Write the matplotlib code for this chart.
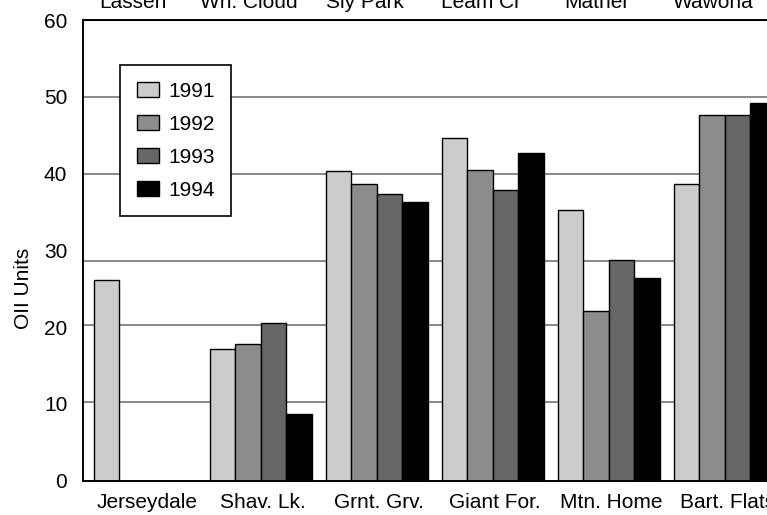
import numpy as np
import matplotlib
matplotlib.use("Agg")
import matplotlib.pyplot as plt
from matplotlib.patches import Patch

plt.rcParams["font.family"] = ["Liberation Sans", "DejaVu Sans"]

# Sites along the bottom and the paired site names along the top
sites = ["Jerseydale", "Shav. Lk.", "Grnt. Grv.", "Giant For.", "Mtn. Home", "Bart. Flats"]
top_sites = ["Lassen", "Wh. Cloud", "Sly Park", "Leam Cr", "Mather", "Wawona"]
years = ["1991", "1992", "1993", "1994"]

# OII units per site and year (nan = no measurement)
v1991 = [26.2, 17.1, 40.3, 44.6, 35.3, 38.7]
v1992 = [np.nan, 17.8, 38.6, 40.4, 22.1, 47.6]
v1993 = [np.nan, 20.5, 37.4, 37.9, 28.7, 47.6]
v1994 = [np.nan, 8.7, 36.3, 42.7, 26.4, 49.2]
series = [v1991, v1992, v1993, v1994]

yticks = [0, 10, 20, 30, 40, 50, 60]
grid_levels = [10.2, 20.3, 28.6, 40, 50]

colors = ["#cccccc", "#8c8c8c", "#666666", "#000000"]

W, H = 767, 515
fig = plt.figure(figsize=(W / 100, H / 100), dpi=100)
ax = fig.add_axes([83.3 / W, (H - 480.7) / H, (790 - 83.3) / W, (480.7 - 20) / H])

group_step = 4.55
centers = np.arange(len(sites)) * group_step
offsets = np.array([-1.5, -0.5, 0.5, 1.5])

for level in grid_levels:
    ax.axhline(level, color="#808080", lw=1.3, zorder=1)

for k, vals in enumerate(series):
    ax.bar(centers + offsets[k], vals, width=1.0, color=colors[k],
           edgecolor="black", linewidth=1.0, zorder=2)

ax.set_xlim(-2.4, 25.31)
ax.set_ylim(0, 60)
ax.set_yticks(yticks)
ax.set_xticks(centers + 0.1)
ax.set_xticklabels(sites)

fs = 15
ax.tick_params(axis="x", length=0, pad=9.0, labelsize=fs)
ax.tick_params(axis="y", length=0, pad=11.5, labelsize=fs)

for side in ["left", "top", "bottom", "right"]:
    ax.spines[side].set_linewidth(1.4)
    ax.spines[side].set_color("black")

top = ax.secondary_xaxis("top")
top.set_xticks(centers - 0.45)
top.set_xticklabels(top_sites)
top.tick_params(length=0, pad=5.5, labelsize=fs)

ax.set_ylabel("OII Units", fontsize=fs, va="center")
ax.yaxis.set_label_coords((24 - 83.3) / (790 - 83.3), (480.7 - 288) / (480.7 - 20))

handles = [Patch(facecolor=c, edgecolor="black", linewidth=1.0) for c in colors]
leg = ax.legend(handles, years, loc="upper left",
                bbox_to_anchor=(120 / W, 1 - 65 / H), bbox_transform=fig.transFigure,
                fontsize=fs, frameon=True, fancybox=False, framealpha=1,
                edgecolor="black", borderpad=0.8, labelspacing=0.67,
                handlelength=1.05, handleheight=0.75, handletextpad=0.45,
                borderaxespad=0)
leg.get_frame().set_linewidth(1.2)

fig.savefig("out.png", dpi=100)
